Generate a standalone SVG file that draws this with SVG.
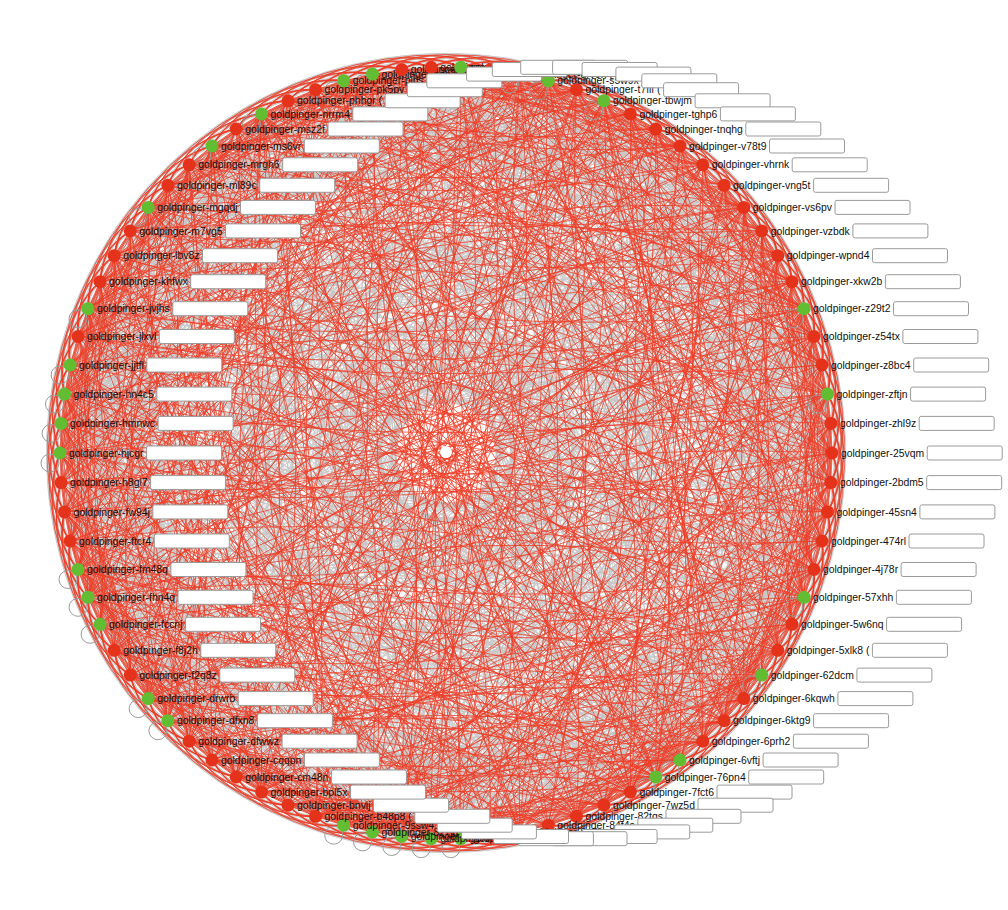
<svg xmlns="http://www.w3.org/2000/svg" width="1008" height="910" viewBox="0 0 1008 910">
<style>
.er{fill:none;stroke:#ee3b24;stroke-width:.7}
.eg{fill:none;stroke:#c6c6c6;stroke-width:.8}
.loop{fill:none;stroke:#9a9a9a;stroke-width:1}
.ok{fill:#62bd32}
.bad{fill:#e5331b}
.node text{font-family:"Liberation Sans",Arial,Helvetica,sans-serif;font-size:10.4px;fill:#111}
.mask{fill:#fff;stroke:#9a9a9a;stroke-width:1}
</style>
<rect width="1008" height="910" fill="#fff"/>
<defs>
<path id="nr" class="er" d="M832 453A29.6 29.6 0 0 1 830.9 482.6M832 453A59.1 59.1 0 0 1 827.5 511.9M832 453A88.5 88.5 0 0 1 821.9 541M832 453A117.8 117.8 0 0 1 814 569.5M832 453A147 147 0 0 1 804 597.3M832 453A147 147 0 0 1 804 308.7M832 453A117.8 117.8 0 0 1 814 336.5M832 453A88.5 88.5 0 0 1 821.9 365M832 453A59.1 59.1 0 0 1 827.5 394.1M832 453A29.6 29.6 0 0 1 830.9 423.4M832 453L830.9 482.6M832 453L821.9 541"/>
<path id="ng" class="eg" d="M832 453A204.6 204.6 0 0 1 777.8 650.3M832 453A261 261 0 0 1 743.8 698.6M832 453L827.5 511.9M832 453L814 569.5"/>
<path id="V0r" class="er" d="M832 453A789.5 789.5 0 0 1 702.8 741.2M832 453A1489 1489 0 0 1 372.5 831.9M832 453A1729.5 1729.5 0 0 1 212 760M832 453A1930 1930 0 0 1 60 453M832 453A1729.5 1729.5 0 0 1 212 146M832 453A1489 1489 0 0 1 372.5 74.1"/>
<path id="V0g" class="eg" d="M832 453A1170 1170 0 0 1 548.3 825.2M832 453A1879.3 1879.3 0 0 1 100.1 624.3M832 453A1879.3 1879.3 0 0 1 100.1 281.7M832 453A1170 1170 0 0 1 548.3 80.8"/>
<path id="V1r" class="er" d="M832 453A1228 1228 0 0 1 519.5 831.9M832 453A1535 1535 0 0 1 343.7 825.2M832 453A1894.8 1894.8 0 0 1 88 597.3M832 453A1928.5 1928.5 0 0 1 61.1 423.4M832 453A1695.5 1695.5 0 0 1 236.2 129M832 453A1440.8 1440.8 0 0 1 401.7 69.5"/>
<path id="V1g" class="eg" d="M832 453A856.5 856.5 0 0 1 680 760M832 453A1761.3 1761.3 0 0 1 189.2 741.2M832 453A1861 1861 0 0 1 114.2 255.7M832 453A1110.5 1110.5 0 0 1 576.5 89.7"/>
<path id="V2r" class="er" d="M832 453A922 922 0 0 1 655.8 777M832 453A1284 1284 0 0 1 490.3 836.5M832 453A1790 1790 0 0 1 167.9 720.7M832 453A1924.3 1924.3 0 0 1 64.5 394.1M832 453A1840 1840 0 0 1 130.3 230.9M832 453A1390.5 1390.5 0 0 1 431.2 67.3"/>
<path id="V2g" class="eg" d="M832 453A1578.5 1578.5 0 0 1 315.5 816.3M832 453A1907.5 1907.5 0 0 1 78 569.5M832 453A1659 1659 0 0 1 261.6 113.9M832 453A1049 1049 0 0 1 603.9 100.8"/>
<path id="V3r" class="er" d="M832 453A986.3 986.3 0 0 1 630.4 792.1M832 453A1620 1620 0 0 1 288.1 805.2M832 453A1816.5 1816.5 0 0 1 148.2 698.6M832 453A1917.3 1917.3 0 0 1 70.1 365M832 453A1816.5 1816.5 0 0 1 148.2 207.4M832 453A1338.3 1338.3 0 0 1 460.8 67.3M832 453A986.3 986.3 0 0 1 630.4 113.9"/>
<path id="V3g" class="eg" d="M832 453A1338.3 1338.3 0 0 1 460.8 838.7M832 453A1917.3 1917.3 0 0 1 70.1 541M832 453A1620 1620 0 0 1 288.1 100.8"/>
<path id="V4r" class="er" d="M832 453A1390.5 1390.5 0 0 1 431.2 838.7M832 453A1659 1659 0 0 1 261.6 792.1M832 453A1924.3 1924.3 0 0 1 64.5 511.9M832 453A1907.5 1907.5 0 0 1 78 336.5M832 453A1578.5 1578.5 0 0 1 315.5 89.7M832 453A1284 1284 0 0 1 490.3 69.5"/>
<path id="V4g" class="eg" d="M832 453A1049 1049 0 0 1 603.9 805.2M832 453A1840 1840 0 0 1 130.3 675.1M832 453A1790 1790 0 0 1 167.9 185.3M832 453A922 922 0 0 1 655.8 129"/>
<path id="V5r" class="er" d="M832 453A1110.5 1110.5 0 0 1 576.5 816.3M832 453A1695.5 1695.5 0 0 1 236.2 777M832 453A1861 1861 0 0 1 114.2 650.3M832 453A1894.8 1894.8 0 0 1 88 308.7M832 453A1761.3 1761.3 0 0 1 189.2 164.8M832 453A1228 1228 0 0 1 519.5 74.1M832 453A856.5 856.5 0 0 1 680 146"/>
<path id="V5g" class="eg" d="M832 453A1440.8 1440.8 0 0 1 401.7 836.5M832 453A1928.5 1928.5 0 0 1 61.1 482.6M832 453A1535 1535 0 0 1 343.7 80.8"/>
<g id="GX"><use href="#ng"/><use href="#V1g"/><use href="#V4g"/><use href="#V3g"/></g>
<g id="GY"><use href="#ng"/><use href="#V2g"/><use href="#V5g"/><use href="#V0g"/></g>
<g id="GZ"><use href="#ng"/><use href="#V0g"/><use href="#V3g"/><use href="#V1g"/></g>
<g id="GA"><use href="#ng"/><use href="#V0g"/><use href="#V1g"/><use href="#V2g"/><use href="#V3g"/><use href="#V4g"/><use href="#V5g"/></g>
<g id="R0"><use href="#nr"/><use href="#V0r"/></g>
<g id="R1"><use href="#nr"/><use href="#V1r"/></g>
<g id="R2"><use href="#nr"/><use href="#V2r"/></g>
<g id="R3"><use href="#nr"/><use href="#V3r"/></g>
<g id="R4"><use href="#nr"/><use href="#V4r"/></g>
<g id="R5"><use href="#nr"/><use href="#V5r"/></g>
<g id="SX"><use href="#R0"/><use href="#V3r"/></g>
<g id="SY"><use href="#R1"/><use href="#V4r"/></g>
<g id="SZ"><use href="#R2"/><use href="#V5r"/></g>
</defs>
<g id="connectors">
<g id="gray-links">
<use href="#GX"/>
<use href="#GY" transform="rotate(4.39 446 453)"/>
<use href="#GZ" transform="rotate(8.78 446 453)"/>
<use href="#GY" transform="rotate(13.171 446 453)"/>
<use href="#GZ" transform="rotate(17.561 446 453)"/>
<use href="#GA" transform="rotate(21.951 446 453)"/>
<use href="#GZ" transform="rotate(26.341 446 453)"/>
<use href="#GX" transform="rotate(30.732 446 453)"/>
<use href="#GA" transform="rotate(35.122 446 453)"/>
<use href="#GX" transform="rotate(39.512 446 453)"/>
<use href="#GY" transform="rotate(43.902 446 453)"/>
<use href="#GZ" transform="rotate(48.293 446 453)"/>
<use href="#GA" transform="rotate(52.683 446 453)"/>
<use href="#GA" transform="rotate(57.073 446 453)"/>
<use href="#GX" transform="rotate(61.463 446 453)"/>
<use href="#GZ" transform="rotate(65.854 446 453)"/>
<use href="#GX" transform="rotate(70.244 446 453)"/>
<use href="#GY" transform="rotate(74.634 446 453)"/>
<use href="#GX" transform="rotate(79.024 446 453)"/>
<use href="#GY" transform="rotate(83.415 446 453)"/>
<use href="#GA" transform="rotate(87.805 446 453)"/>
<use href="#GA" transform="rotate(92.195 446 453)"/>
<use href="#GA" transform="rotate(96.585 446 453)"/>
<use href="#GA" transform="rotate(100.976 446 453)"/>
<use href="#GA" transform="rotate(105.366 446 453)"/>
<use href="#GX" transform="rotate(109.756 446 453)"/>
<use href="#GY" transform="rotate(114.146 446 453)"/>
<use href="#GX" transform="rotate(118.537 446 453)"/>
<use href="#GY" transform="rotate(122.927 446 453)"/>
<use href="#GZ" transform="rotate(127.317 446 453)"/>
<use href="#GY" transform="rotate(131.707 446 453)"/>
<use href="#GA" transform="rotate(136.098 446 453)"/>
<use href="#GA" transform="rotate(140.488 446 453)"/>
<use href="#GZ" transform="rotate(144.878 446 453)"/>
<use href="#GX" transform="rotate(149.268 446 453)"/>
<use href="#GA" transform="rotate(153.659 446 453)"/>
<use href="#GA" transform="rotate(158.049 446 453)"/>
<use href="#GA" transform="rotate(162.439 446 453)"/>
<use href="#GZ" transform="rotate(166.829 446 453)"/>
<use href="#GY" transform="rotate(171.22 446 453)"/>
<use href="#GZ" transform="rotate(175.61 446 453)"/>
<use href="#GA" transform="rotate(180 446 453)"/>
<use href="#GA" transform="rotate(184.39 446 453)"/>
<use href="#GA" transform="rotate(188.78 446 453)"/>
<use href="#GA" transform="rotate(193.171 446 453)"/>
<use href="#GX" transform="rotate(197.561 446 453)"/>
<use href="#GA" transform="rotate(201.951 446 453)"/>
<use href="#GZ" transform="rotate(206.341 446 453)"/>
<use href="#GY" transform="rotate(210.732 446 453)"/>
<use href="#GZ" transform="rotate(215.122 446 453)"/>
<use href="#GA" transform="rotate(219.512 446 453)"/>
<use href="#GZ" transform="rotate(223.902 446 453)"/>
<use href="#GX" transform="rotate(228.293 446 453)"/>
<use href="#GA" transform="rotate(232.683 446 453)"/>
<use href="#GX" transform="rotate(237.073 446 453)"/>
<use href="#GA" transform="rotate(241.463 446 453)"/>
<use href="#GZ" transform="rotate(245.854 446 453)"/>
<use href="#GY" transform="rotate(250.244 446 453)"/>
<use href="#GA" transform="rotate(254.634 446 453)"/>
<use href="#GA" transform="rotate(259.024 446 453)"/>
<use href="#GZ" transform="rotate(263.415 446 453)"/>
<use href="#GX" transform="rotate(267.805 446 453)"/>
<use href="#GA" transform="rotate(272.195 446 453)"/>
<use href="#GX" transform="rotate(276.585 446 453)"/>
<use href="#GA" transform="rotate(280.976 446 453)"/>
<use href="#GA" transform="rotate(285.366 446 453)"/>
<use href="#GY" transform="rotate(289.756 446 453)"/>
<use href="#GA" transform="rotate(294.146 446 453)"/>
<use href="#GX" transform="rotate(298.537 446 453)"/>
<use href="#GZ" transform="rotate(302.927 446 453)"/>
<use href="#GX" transform="rotate(307.317 446 453)"/>
<use href="#GY" transform="rotate(311.707 446 453)"/>
<use href="#GX" transform="rotate(316.098 446 453)"/>
<use href="#GY" transform="rotate(320.488 446 453)"/>
<use href="#GZ" transform="rotate(324.878 446 453)"/>
<use href="#GY" transform="rotate(329.268 446 453)"/>
<use href="#GZ" transform="rotate(333.659 446 453)"/>
<use href="#GA" transform="rotate(338.049 446 453)"/>
<use href="#GZ" transform="rotate(342.439 446 453)"/>
<use href="#GX" transform="rotate(346.829 446 453)"/>
<use href="#GA" transform="rotate(351.22 446 453)"/>
<use href="#GX" transform="rotate(355.61 446 453)"/>
</g>
<g id="red-links">
<use href="#R0"/>
<use href="#R1" transform="rotate(4.39 446 453)"/>
<use href="#R2" transform="rotate(8.78 446 453)"/>
<use href="#R4" transform="rotate(13.171 446 453)"/>
<use href="#R5" transform="rotate(17.561 446 453)"/>
<use href="#SX" transform="rotate(21.951 446 453)"/>
<use href="#R2" transform="rotate(26.341 446 453)"/>
<use href="#R3" transform="rotate(30.732 446 453)"/>
<use href="#SY" transform="rotate(35.122 446 453)"/>
<use href="#R0" transform="rotate(39.512 446 453)"/>
<use href="#R1" transform="rotate(43.902 446 453)"/>
<use href="#R2" transform="rotate(48.293 446 453)"/>
<use href="#SY" transform="rotate(52.683 446 453)"/>
<use href="#SZ" transform="rotate(57.073 446 453)"/>
<use href="#R0" transform="rotate(61.463 446 453)"/>
<use href="#R2" transform="rotate(65.854 446 453)"/>
<use href="#R3" transform="rotate(70.244 446 453)"/>
<use href="#R4" transform="rotate(74.634 446 453)"/>
<use href="#R0" transform="rotate(79.024 446 453)"/>
<use href="#R1" transform="rotate(83.415 446 453)"/>
<use href="#SZ" transform="rotate(87.805 446 453)"/>
<use href="#SY" transform="rotate(92.195 446 453)"/>
<use href="#SZ" transform="rotate(96.585 446 453)"/>
<use href="#SX" transform="rotate(100.976 446 453)"/>
<use href="#SZ" transform="rotate(105.366 446 453)"/>
<use href="#R3" transform="rotate(109.756 446 453)"/>
<use href="#R4" transform="rotate(114.146 446 453)"/>
<use href="#R0" transform="rotate(118.537 446 453)"/>
<use href="#R1" transform="rotate(122.927 446 453)"/>
<use href="#R2" transform="rotate(127.317 446 453)"/>
<use href="#R4" transform="rotate(131.707 446 453)"/>
<use href="#SZ" transform="rotate(136.098 446 453)"/>
<use href="#SX" transform="rotate(140.488 446 453)"/>
<use href="#R2" transform="rotate(144.878 446 453)"/>
<use href="#R3" transform="rotate(149.268 446 453)"/>
<use href="#SY" transform="rotate(153.659 446 453)"/>
<use href="#SX" transform="rotate(158.049 446 453)"/>
<use href="#SY" transform="rotate(162.439 446 453)"/>
<use href="#R2" transform="rotate(166.829 446 453)"/>
<use href="#R4" transform="rotate(171.22 446 453)"/>
<use href="#R5" transform="rotate(175.61 446 453)"/>
<use href="#SX" transform="rotate(180 446 453)"/>
<use href="#SZ" transform="rotate(184.39 446 453)"/>
<use href="#SX" transform="rotate(188.78 446 453)"/>
<use href="#SY" transform="rotate(193.171 446 453)"/>
<use href="#R0" transform="rotate(197.561 446 453)"/>
<use href="#SY" transform="rotate(201.951 446 453)"/>
<use href="#R2" transform="rotate(206.341 446 453)"/>
<use href="#R4" transform="rotate(210.732 446 453)"/>
<use href="#R5" transform="rotate(215.122 446 453)"/>
<use href="#SX" transform="rotate(219.512 446 453)"/>
<use href="#R2" transform="rotate(223.902 446 453)"/>
<use href="#R3" transform="rotate(228.293 446 453)"/>
<use href="#SY" transform="rotate(232.683 446 453)"/>
<use href="#R0" transform="rotate(237.073 446 453)"/>
<use href="#SY" transform="rotate(241.463 446 453)"/>
<use href="#R2" transform="rotate(245.854 446 453)"/>
<use href="#R4" transform="rotate(250.244 446 453)"/>
<use href="#SZ" transform="rotate(254.634 446 453)"/>
<use href="#SX" transform="rotate(259.024 446 453)"/>
<use href="#R2" transform="rotate(263.415 446 453)"/>
<use href="#R3" transform="rotate(267.805 446 453)"/>
<use href="#SY" transform="rotate(272.195 446 453)"/>
<use href="#R0" transform="rotate(276.585 446 453)"/>
<use href="#SY" transform="rotate(280.976 446 453)"/>
<use href="#SZ" transform="rotate(285.366 446 453)"/>
<use href="#R4" transform="rotate(289.756 446 453)"/>
<use href="#SZ" transform="rotate(294.146 446 453)"/>
<use href="#R0" transform="rotate(298.537 446 453)"/>
<use href="#R2" transform="rotate(302.927 446 453)"/>
<use href="#R3" transform="rotate(307.317 446 453)"/>
<use href="#R4" transform="rotate(311.707 446 453)"/>
<use href="#R0" transform="rotate(316.098 446 453)"/>
<use href="#R1" transform="rotate(320.488 446 453)"/>
<use href="#R2" transform="rotate(324.878 446 453)"/>
<use href="#R4" transform="rotate(329.268 446 453)"/>
<use href="#R5" transform="rotate(333.659 446 453)"/>
<use href="#SX" transform="rotate(338.049 446 453)"/>
<use href="#R2" transform="rotate(342.439 446 453)"/>
<use href="#R3" transform="rotate(346.829 446 453)"/>
<use href="#SY" transform="rotate(351.22 446 453)"/>
<use href="#R0" transform="rotate(355.61 446 453)"/>
</g>
<g id="self-links">
<circle class="loop" cx="794" cy="607.3" r="9"/>
<circle class="loop" cx="751.7" cy="685.1" r="9"/>
<circle class="loop" cx="670" cy="770" r="9"/>
<circle class="loop" cx="645.8" cy="787" r="9"/>
<circle class="loop" cx="450.8" cy="848.7" r="9"/>
<circle class="loop" cx="421.2" cy="848.7" r="9"/>
<circle class="loop" cx="391.7" cy="846.5" r="9"/>
<circle class="loop" cx="362.5" cy="841.9" r="9"/>
<circle class="loop" cx="333.7" cy="835.2" r="9"/>
<circle class="loop" cx="157.9" cy="730.7" r="9"/>
<circle class="loop" cx="138.2" cy="708.6" r="9"/>
<circle class="loop" cx="90.1" cy="634.3" r="9"/>
<circle class="loop" cx="78" cy="607.3" r="9"/>
<circle class="loop" cx="68" cy="579.5" r="9"/>
<circle class="loop" cx="50" cy="463" r="9"/>
<circle class="loop" cx="51.1" cy="433.4" r="9"/>
<circle class="loop" cx="54.5" cy="404.1" r="9"/>
<circle class="loop" cx="60.1" cy="375" r="9"/>
<circle class="loop" cx="78" cy="318.7" r="9"/>
<circle class="loop" cx="138.2" cy="217.4" r="9"/>
<circle class="loop" cx="202" cy="156" r="9"/>
<circle class="loop" cx="251.6" cy="123.9" r="9"/>
<circle class="loop" cx="333.7" cy="90.8" r="9"/>
<circle class="loop" cx="362.5" cy="84.1" r="9"/>
<circle class="loop" cx="450.8" cy="77.3" r="9"/>
<circle class="loop" cx="509.5" cy="84.1" r="9"/>
<circle class="loop" cx="538.3" cy="90.8" r="9"/>
<circle class="loop" cx="593.9" cy="110.8" r="9"/>
<circle class="loop" cx="794" cy="318.7" r="9"/>
<circle class="loop" cx="817.5" cy="404.1" r="9"/>
</g>
</g>
<circle cx="446" cy="452" r="6" fill="#fff"/>
<g id="nodes">
<g id="node-25vqm" class="node"><circle class="bad" cx="832" cy="453" r="6.5"/><text x="841" y="456.6">goldpinger-25vqm</text></g>
<g id="node-2bdm5" class="node"><circle class="bad" cx="830.9" cy="482.6" r="6.5"/><text x="839.9" y="486.2">goldpinger-2bdm5</text></g>
<g id="node-45sn4" class="node"><circle class="bad" cx="827.5" cy="511.9" r="6.5"/><text x="836.5" y="515.5">goldpinger-45sn4</text></g>
<g id="node-474rl" class="node"><circle class="bad" cx="821.9" cy="541" r="6.5"/><text x="830.9" y="544.6">goldpinger-474rl</text></g>
<g id="node-4j78r" class="node"><circle class="bad" cx="814" cy="569.5" r="6.5"/><text x="823" y="573.1">goldpinger-4j78r</text></g>
<g id="node-57xhh" class="node"><circle class="ok" cx="804" cy="597.3" r="6.5"/><text x="813" y="600.9">goldpinger-57xhh</text></g>
<g id="node-5w6nq" class="node"><circle class="bad" cx="791.9" cy="624.3" r="6.5"/><text x="800.9" y="627.9">goldpinger-5w6nq</text></g>
<g id="node-5xlk8" class="node"><circle class="bad" cx="777.8" cy="650.3" r="6.5"/><text x="786.8" y="653.9">goldpinger-5xlk8 (</text></g>
<g id="node-62dcm" class="node"><circle class="ok" cx="761.7" cy="675.1" r="6.5"/><text x="770.7" y="678.7">goldpinger-62dcm</text></g>
<g id="node-6kqwh" class="node"><circle class="bad" cx="743.8" cy="698.6" r="6.5"/><text x="752.8" y="702.2">goldpinger-6kqwh</text></g>
<g id="node-6ktg9" class="node"><circle class="bad" cx="724.1" cy="720.7" r="6.5"/><text x="733.1" y="724.3">goldpinger-6ktg9</text></g>
<g id="node-6prh2" class="node"><circle class="bad" cx="702.8" cy="741.2" r="6.5"/><text x="711.8" y="744.8">goldpinger-6prh2</text></g>
<g id="node-6vftj" class="node"><circle class="ok" cx="680" cy="760" r="6.5"/><text x="689" y="763.6">goldpinger-6vftj</text></g>
<g id="node-76pn4" class="node"><circle class="ok" cx="655.8" cy="777" r="6.5"/><text x="664.8" y="780.6">goldpinger-76pn4</text></g>
<g id="node-7fct6" class="node"><circle class="bad" cx="630.4" cy="792.1" r="6.5"/><text x="639.4" y="795.7">goldpinger-7fct6</text></g>
<g id="node-7wz5d" class="node"><circle class="bad" cx="603.9" cy="805.2" r="6.5"/><text x="612.9" y="808.8">goldpinger-7wz5d</text></g>
<g id="node-82tqs" class="node"><circle class="bad" cx="576.5" cy="816.3" r="6.5"/><text x="585.5" y="819.9">goldpinger-82tqs</text></g>
<g id="node-84f4s" class="node"><circle class="bad" cx="548.3" cy="825.2" r="6.5"/><text x="557.3" y="828.8">goldpinger-84f4s</text></g>
<g id="node-8g5mz" class="node"><circle class="bad" cx="519.5" cy="831.9" r="6.5"/><text x="528.5" y="835.5">goldpinger-8g5mz</text></g>
<g id="node-8kdv9" class="node"><circle class="bad" cx="490.3" cy="836.5" r="6.5"/><text x="499.3" y="840.1">goldpinger-8kdv9</text></g>
<g id="node-8p6lw" class="node"><circle class="ok" cx="460.8" cy="838.7" r="6.5"/><text x="469.8" y="842.3">goldpinger-8p6lw</text></g>
<g id="node-8t2fn" class="node"><circle class="ok" cx="431.2" cy="838.7" r="6.5"/><text x="440.2" y="842.3">goldpinger-8t2fn</text></g>
<g id="node-8xq4c" class="node"><circle class="ok" cx="401.7" cy="836.5" r="6.5"/><text x="410.7" y="840.1">goldpinger-8xq4c</text></g>
<g id="node-8z7jd" class="node"><circle class="ok" cx="372.5" cy="831.9" r="6.5"/><text x="381.5" y="835.5">goldpinger-8z7jd</text></g>
<g id="node-9ssw4" class="node"><circle class="ok" cx="343.7" cy="825.2" r="6.5"/><text x="352.7" y="828.8">goldpinger-9ssw4</text></g>
<g id="node-b48p8" class="node"><circle class="bad" cx="315.5" cy="816.3" r="6.5"/><text x="324.5" y="819.9">goldpinger-b48p8 (</text></g>
<g id="node-bnvlj" class="node"><circle class="bad" cx="288.1" cy="805.2" r="6.5"/><text x="297.1" y="808.8">goldpinger-bnvlj</text></g>
<g id="node-bpl5x" class="node"><circle class="bad" cx="261.6" cy="792.1" r="6.5"/><text x="270.6" y="795.7">goldpinger-bpl5x</text></g>
<g id="node-cm48n" class="node"><circle class="bad" cx="236.2" cy="777" r="6.5"/><text x="245.2" y="780.6">goldpinger-cm48n</text></g>
<g id="node-cqqpn" class="node"><circle class="bad" cx="212" cy="760" r="6.5"/><text x="221" y="763.6">goldpinger-cqqpn</text></g>
<g id="node-dfwwz" class="node"><circle class="bad" cx="189.2" cy="741.2" r="6.5"/><text x="198.2" y="744.8">goldpinger-dfwwz</text></g>
<g id="node-dfxn8" class="node"><circle class="ok" cx="167.9" cy="720.7" r="6.5"/><text x="176.9" y="724.3">goldpinger-dfxn8</text></g>
<g id="node-drwrb" class="node"><circle class="ok" cx="148.2" cy="698.6" r="6.5"/><text x="157.2" y="702.2">goldpinger-drwrb</text></g>
<g id="node-f2q8z" class="node"><circle class="bad" cx="130.3" cy="675.1" r="6.5"/><text x="139.3" y="678.7">goldpinger-f2q8z</text></g>
<g id="node-f8j2h" class="node"><circle class="bad" cx="114.2" cy="650.3" r="6.5"/><text x="123.2" y="653.9">goldpinger-f8j2h</text></g>
<g id="node-fccnj" class="node"><circle class="ok" cx="100.1" cy="624.3" r="6.5"/><text x="109.1" y="627.9">goldpinger-fccnj</text></g>
<g id="node-fhn4q" class="node"><circle class="ok" cx="88" cy="597.3" r="6.5"/><text x="97" y="600.9">goldpinger-fhn4q</text></g>
<g id="node-fm48q" class="node"><circle class="ok" cx="78" cy="569.5" r="6.5"/><text x="87" y="573.1">goldpinger-fm48q</text></g>
<g id="node-ftcr4" class="node"><circle class="bad" cx="70.1" cy="541" r="6.5"/><text x="79.1" y="544.6">goldpinger-ftcr4</text></g>
<g id="node-fw94j" class="node"><circle class="bad" cx="64.5" cy="511.9" r="6.5"/><text x="73.5" y="515.5">goldpinger-fw94j</text></g>
<g id="node-h8gl7" class="node"><circle class="bad" cx="61.1" cy="482.6" r="6.5"/><text x="70.1" y="486.2">goldpinger-h8gl7</text></g>
<g id="node-hjcgr" class="node"><circle class="ok" cx="60" cy="453" r="6.5"/><text x="69" y="456.6">goldpinger-hjcgr</text></g>
<g id="node-hmnwc" class="node"><circle class="ok" cx="61.1" cy="423.4" r="6.5"/><text x="70.1" y="427">goldpinger-hmnwc</text></g>
<g id="node-hn4c5" class="node"><circle class="ok" cx="64.5" cy="394.1" r="6.5"/><text x="73.5" y="397.7">goldpinger-hn4c5</text></g>
<g id="node-jjtfl" class="node"><circle class="ok" cx="70.1" cy="365" r="6.5"/><text x="79.1" y="368.6">goldpinger-jjtfl</text></g>
<g id="node-jlxvl" class="node"><circle class="bad" cx="78" cy="336.5" r="6.5"/><text x="87" y="340.1">goldpinger-jlxvl</text></g>
<g id="node-jvjhs" class="node"><circle class="ok" cx="88" cy="308.7" r="6.5"/><text x="97" y="312.3">goldpinger-jvjhs</text></g>
<g id="node-khfwx" class="node"><circle class="bad" cx="100.1" cy="281.7" r="6.5"/><text x="109.1" y="285.3">goldpinger-khfwx</text></g>
<g id="node-lbv8z" class="node"><circle class="bad" cx="114.2" cy="255.7" r="6.5"/><text x="123.2" y="259.3">goldpinger-lbv8z</text></g>
<g id="node-m7vg5" class="node"><circle class="bad" cx="130.3" cy="230.9" r="6.5"/><text x="139.3" y="234.5">goldpinger-m7vg5</text></g>
<g id="node-mgqdj" class="node"><circle class="ok" cx="148.2" cy="207.4" r="6.5"/><text x="157.2" y="211">goldpinger-mgqdj</text></g>
<g id="node-ml89c" class="node"><circle class="bad" cx="167.9" cy="185.3" r="6.5"/><text x="176.9" y="188.9">goldpinger-ml89c</text></g>
<g id="node-mrgh6" class="node"><circle class="bad" cx="189.2" cy="164.8" r="6.5"/><text x="198.2" y="168.4">goldpinger-mrgh6</text></g>
<g id="node-ms6vr" class="node"><circle class="ok" cx="212" cy="146" r="6.5"/><text x="221" y="149.6">goldpinger-ms6vr</text></g>
<g id="node-msz2f" class="node"><circle class="bad" cx="236.2" cy="129" r="6.5"/><text x="245.2" y="132.6">goldpinger-msz2f</text></g>
<g id="node-nrrm4" class="node"><circle class="ok" cx="261.6" cy="113.9" r="6.5"/><text x="270.6" y="117.5">goldpinger-nrrm4</text></g>
<g id="node-phhgr" class="node"><circle class="bad" cx="288.1" cy="100.8" r="6.5"/><text x="297.1" y="104.4">goldpinger-phhgr (</text></g>
<g id="node-pk5pv" class="node"><circle class="bad" cx="315.5" cy="89.7" r="6.5"/><text x="324.5" y="93.3">goldpinger-pk5pv</text></g>
<g id="node-plrls" class="node"><circle class="ok" cx="343.7" cy="80.8" r="6.5"/><text x="352.7" y="84.4">goldpinger-plrls</text></g>
<g id="node-pqk2w" class="node"><circle class="ok" cx="372.5" cy="74.1" r="6.5"/><text x="381.5" y="77.7">goldpinger-pqk2w</text></g>
<g id="node-q4rnd" class="node"><circle class="bad" cx="401.7" cy="69.5" r="6.5"/><text x="410.7" y="73.1">goldpinger-q4rnd</text></g>
<g id="node-q8tbs" class="node"><circle class="bad" cx="431.2" cy="67.3" r="6.5"/><text x="440.2" y="70.9">goldpinger-q8tbs</text></g>
<g id="node-qc6hx" class="node"><circle class="ok" cx="460.8" cy="67.3" r="6.5"/><text x="469.8" y="70.9">goldpinger-qc6hx</text></g>
<g id="node-qlm5v" class="node"><circle class="bad" cx="490.3" cy="69.5" r="6.5"/><text x="499.3" y="73.1">goldpinger-qlm5v</text></g>
<g id="node-qrv9h" class="node"><circle class="ok" cx="519.5" cy="74.1" r="6.5"/><text x="528.5" y="77.7">goldpinger-qrv9h (</text></g>
<g id="node-s5w9x" class="node"><circle class="ok" cx="548.3" cy="80.8" r="6.5"/><text x="557.3" y="84.4">goldpinger-s5w9x</text></g>
<g id="node-t7flf" class="node"><circle class="bad" cx="576.5" cy="89.7" r="6.5"/><text x="585.5" y="93.3">goldpinger-t7flf (</text></g>
<g id="node-tbwjm" class="node"><circle class="ok" cx="603.9" cy="100.8" r="6.5"/><text x="612.9" y="104.4">goldpinger-tbwjm</text></g>
<g id="node-tghp6" class="node"><circle class="bad" cx="630.4" cy="113.9" r="6.5"/><text x="639.4" y="117.5">goldpinger-tghp6</text></g>
<g id="node-tnqhg" class="node"><circle class="bad" cx="655.8" cy="129" r="6.5"/><text x="664.8" y="132.6">goldpinger-tnqhg</text></g>
<g id="node-v78t9" class="node"><circle class="bad" cx="680" cy="146" r="6.5"/><text x="689" y="149.6">goldpinger-v78t9</text></g>
<g id="node-vhrnk" class="node"><circle class="bad" cx="702.8" cy="164.8" r="6.5"/><text x="711.8" y="168.4">goldpinger-vhrnk</text></g>
<g id="node-vng5t" class="node"><circle class="bad" cx="724.1" cy="185.3" r="6.5"/><text x="733.1" y="188.9">goldpinger-vng5t</text></g>
<g id="node-vs6pv" class="node"><circle class="bad" cx="743.8" cy="207.4" r="6.5"/><text x="752.8" y="211">goldpinger-vs6pv</text></g>
<g id="node-vzbdk" class="node"><circle class="bad" cx="761.7" cy="230.9" r="6.5"/><text x="770.7" y="234.5">goldpinger-vzbdk</text></g>
<g id="node-wpnd4" class="node"><circle class="bad" cx="777.8" cy="255.7" r="6.5"/><text x="786.8" y="259.3">goldpinger-wpnd4</text></g>
<g id="node-xkw2b" class="node"><circle class="bad" cx="791.9" cy="281.7" r="6.5"/><text x="800.9" y="285.3">goldpinger-xkw2b</text></g>
<g id="node-z29t2" class="node"><circle class="ok" cx="804" cy="308.7" r="6.5"/><text x="813" y="312.3">goldpinger-z29t2</text></g>
<g id="node-z54tx" class="node"><circle class="bad" cx="814" cy="336.5" r="6.5"/><text x="823" y="340.1">goldpinger-z54tx</text></g>
<g id="node-z8bc4" class="node"><circle class="bad" cx="821.9" cy="365" r="6.5"/><text x="830.9" y="368.6">goldpinger-z8bc4</text></g>
<g id="node-zftjn" class="node"><circle class="ok" cx="827.5" cy="394.1" r="6.5"/><text x="836.5" y="397.7">goldpinger-zftjn</text></g>
<g id="node-zhl9z" class="node"><circle class="bad" cx="830.9" cy="423.4" r="6.5"/><text x="839.9" y="427">goldpinger-zhl9z</text></g>
</g>
<g id="redactions">
<rect class="mask" x="927.2" y="446" width="75" height="14" rx="2"/>
<rect class="mask" x="926.7" y="475.6" width="75" height="14" rx="2"/>
<rect class="mask" x="919.9" y="504.9" width="75" height="14" rx="2"/>
<rect class="mask" x="909" y="534" width="75" height="14" rx="2"/>
<rect class="mask" x="901.1" y="562.5" width="75" height="14" rx="2"/>
<rect class="mask" x="896.4" y="590.3" width="75" height="14" rx="2"/>
<rect class="mask" x="886.6" y="617.3" width="75" height="14" rx="2"/>
<rect class="mask" x="872.4" y="643.3" width="75" height="14" rx="2"/>
<rect class="mask" x="856.9" y="668.1" width="75" height="14" rx="2"/>
<rect class="mask" x="837.9" y="691.6" width="75" height="14" rx="2"/>
<rect class="mask" x="813.6" y="713.7" width="75" height="14" rx="2"/>
<rect class="mask" x="793.4" y="734.2" width="75" height="14" rx="2"/>
<rect class="mask" x="763.1" y="753" width="75" height="14" rx="2"/>
<rect class="mask" x="748.7" y="770" width="75" height="14" rx="2"/>
<rect class="mask" x="717" y="785.1" width="75" height="14" rx="2"/>
<rect class="mask" x="698" y="798.2" width="75" height="14" rx="2"/>
<rect class="mask" x="666" y="809.3" width="75" height="14" rx="2"/>
<rect class="mask" x="637.8" y="818.2" width="75" height="14" rx="2"/>
<rect class="mask" x="614.7" y="824.9" width="75" height="14" rx="2"/>
<rect class="mask" x="582.1" y="829.5" width="75" height="14" rx="2"/>
<rect class="mask" x="552" y="831.7" width="75" height="14" rx="2"/>
<rect class="mask" x="518.4" y="831.7" width="75" height="14" rx="2"/>
<rect class="mask" x="493.5" y="829.5" width="75" height="14" rx="2"/>
<rect class="mask" x="461.4" y="824.9" width="75" height="14" rx="2"/>
<rect class="mask" x="437.2" y="818.2" width="75" height="14" rx="2"/>
<rect class="mask" x="414.8" y="809.3" width="75" height="14" rx="2"/>
<rect class="mask" x="373.5" y="798.2" width="75" height="14" rx="2"/>
<rect class="mask" x="350.5" y="785.1" width="75" height="14" rx="2"/>
<rect class="mask" x="331.4" y="770" width="75" height="14" rx="2"/>
<rect class="mask" x="304.4" y="753" width="75" height="14" rx="2"/>
<rect class="mask" x="282.1" y="734.2" width="75" height="14" rx="2"/>
<rect class="mask" x="257.4" y="713.7" width="75" height="14" rx="2"/>
<rect class="mask" x="238.2" y="691.6" width="75" height="14" rx="2"/>
<rect class="mask" x="219.8" y="668.1" width="75" height="14" rx="2"/>
<rect class="mask" x="200.8" y="643.3" width="75" height="14" rx="2"/>
<rect class="mask" x="185.5" y="617.3" width="75" height="14" rx="2"/>
<rect class="mask" x="178" y="590.3" width="75" height="14" rx="2"/>
<rect class="mask" x="170.9" y="562.5" width="75" height="14" rx="2"/>
<rect class="mask" x="154.3" y="534" width="75" height="14" rx="2"/>
<rect class="mask" x="152.8" y="504.9" width="75" height="14" rx="2"/>
<rect class="mask" x="150.6" y="475.6" width="75" height="14" rx="2"/>
<rect class="mask" x="146.6" y="446" width="75" height="14" rx="2"/>
<rect class="mask" x="158.1" y="416.4" width="75" height="14" rx="2"/>
<rect class="mask" x="156.9" y="387.1" width="75" height="14" rx="2"/>
<rect class="mask" x="146.8" y="358" width="75" height="14" rx="2"/>
<rect class="mask" x="159.3" y="329.5" width="75" height="14" rx="2"/>
<rect class="mask" x="172.8" y="301.7" width="75" height="14" rx="2"/>
<rect class="mask" x="190.7" y="274.7" width="75" height="14" rx="2"/>
<rect class="mask" x="202.5" y="248.7" width="75" height="14" rx="2"/>
<rect class="mask" x="225.5" y="223.9" width="75" height="14" rx="2"/>
<rect class="mask" x="240.5" y="200.4" width="75" height="14" rx="2"/>
<rect class="mask" x="259.7" y="178.3" width="75" height="14" rx="2"/>
<rect class="mask" x="282.7" y="157.8" width="75" height="14" rx="2"/>
<rect class="mask" x="304.3" y="139" width="75" height="14" rx="2"/>
<rect class="mask" x="328" y="122" width="75" height="14" rx="2"/>
<rect class="mask" x="352.8" y="106.9" width="75" height="14" rx="2"/>
<rect class="mask" x="385.1" y="93.8" width="75" height="14" rx="2"/>
<rect class="mask" x="407.3" y="82.7" width="75" height="14" rx="2"/>
<rect class="mask" x="426.8" y="73.8" width="75" height="14" rx="2"/>
<rect class="mask" x="466.6" y="67.1" width="75" height="14" rx="2"/>
<rect class="mask" x="492.3" y="62.5" width="75" height="14" rx="2"/>
<rect class="mask" x="520.7" y="60.3" width="75" height="14" rx="2"/>
<rect class="mask" x="552.6" y="60.3" width="75" height="14" rx="2"/>
<rect class="mask" x="582.1" y="62.5" width="75" height="14" rx="2"/>
<rect class="mask" x="615.9" y="67.1" width="75" height="14" rx="2"/>
<rect class="mask" x="641.8" y="73.8" width="75" height="14" rx="2"/>
<rect class="mask" x="663.6" y="82.7" width="75" height="14" rx="2"/>
<rect class="mask" x="695.1" y="93.8" width="75" height="14" rx="2"/>
<rect class="mask" x="720.4" y="106.9" width="75" height="14" rx="2"/>
<rect class="mask" x="745.8" y="122" width="75" height="14" rx="2"/>
<rect class="mask" x="769.5" y="139" width="75" height="14" rx="2"/>
<rect class="mask" x="792.2" y="157.8" width="75" height="14" rx="2"/>
<rect class="mask" x="813.6" y="178.3" width="75" height="14" rx="2"/>
<rect class="mask" x="835" y="200.4" width="75" height="14" rx="2"/>
<rect class="mask" x="852.9" y="223.9" width="75" height="14" rx="2"/>
<rect class="mask" x="872.5" y="248.7" width="75" height="14" rx="2"/>
<rect class="mask" x="885.4" y="274.7" width="75" height="14" rx="2"/>
<rect class="mask" x="893.5" y="301.7" width="75" height="14" rx="2"/>
<rect class="mask" x="902.9" y="329.5" width="75" height="14" rx="2"/>
<rect class="mask" x="913.7" y="358" width="75" height="14" rx="2"/>
<rect class="mask" x="910.6" y="387.1" width="75" height="14" rx="2"/>
<rect class="mask" x="919.2" y="416.4" width="75" height="14" rx="2"/>
</g>
</svg>
